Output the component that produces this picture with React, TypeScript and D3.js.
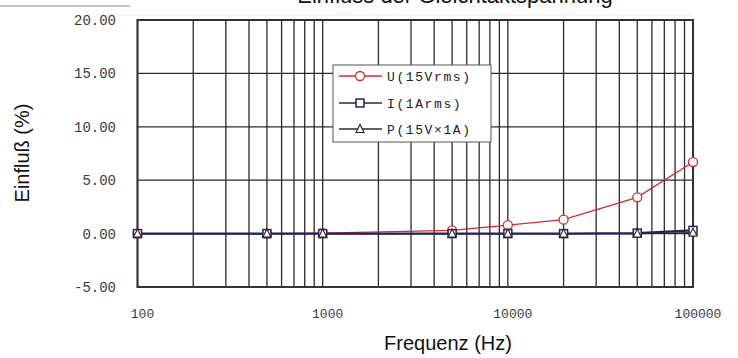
import { scaleLog, scaleLinear, line, range } from "d3"

const freqs = [100, 500, 1000, 5000, 10000, 20000, 50000, 100000]
const uValues = [0, 0, 0.05, 0.3, 0.8, 1.3, 3.4, 6.7]
const iValues = [0, 0, 0, 0, 0, 0, 0.05, 0.3]
const pValues = [0, 0, 0, 0, 0, 0, 0, 0.1]
const yTicks = [20, 15, 10, 5, 0, -5]
const xTicks = [100, 1000, 10000, 100000]
const legendLabels = ["U(15Vrms)", "I(1Arms)", "P(15V×1A)"]

const W = 738
const H = 358
const mono = "'Liberation Mono', 'DejaVu Sans Mono', monospace"
const sans = "'Liberation Sans', Arial, sans-serif"

const uColor = "#d42a2a"
const iColor = "#23235e"
const pColor = "#2a2a2a"

function Marker({ kind, x, y, color }: { kind: string; x: number; y: number; color: string }) {
  if (kind === "circle") {
    return <circle cx={x} cy={y} r={4.5} fill="#fff" stroke={color} strokeWidth={1.3} />
  }
  if (kind === "square") {
    return <rect x={x - 4} y={y - 4} width={8} height={8} fill="#fff" stroke={color} strokeWidth={1.5} />
  }
  return (
    <path
      d={`M${x},${y - 4.5}L${x + 4},${y + 3.5}L${x - 4},${y + 3.5}Z`}
      fill="#fff"
      stroke={color}
      strokeWidth={1.2}
    />
  )
}

export default function App() {
  const x = scaleLog().domain([100, 100000]).range([137.5, 693])
  const y = scaleLinear().domain([-5, 20]).range([287, 20])

  // minor grid: 1..9 times every decade
  const gridX: number[] = []
  ;[100, 1000, 10000].forEach((d) => range(1, 10).forEach((m) => gridX.push(d * m)))
  gridX.push(100000)

  const lineGen = line<number>()
    .x((_, i) => x(freqs[i]))
    .y((d) => y(d))

  const series = [
    { vals: uValues, color: uColor, width: 1.3, kind: "circle" },
    { vals: iValues, color: iColor, width: 2.2, kind: "square" },
    { vals: pValues, color: pColor, width: 1.2, kind: "triangle" },
  ]

  const lx = 333
  const ly = 65
  const rows = [76, 103, 129]

  return (
    <div style={{ position: "fixed", left: 0, top: 0 }}>
      <svg width={W} height={H} style={{ display: "block", background: "#fff" }}>
        <line x1={0} x2={130} y1={6} y2={6} stroke="#c9bfc9" strokeWidth={2} />
        <line x1={95} x2={690} y1={15} y2={15} stroke="#ececec" strokeWidth={1} />
        <text x={455} y={3} textAnchor="middle" fontFamily={sans} fontSize={22} fill="#111">
          Einfluss der Gleichtaktspannung
        </text>

        {gridX.map((f) => (
          <line key={f} x1={x(f)} x2={x(f)} y1={y(20)} y2={y(-5)} stroke="#2b2b2b" strokeWidth={1.3} />
        ))}
        {yTicks.map((t) => (
          <line key={t} x1={x(100)} x2={x(100000)} y1={y(t)} y2={y(t)} stroke="#2b2b2b" strokeWidth={1.3} />
        ))}
        <rect
          x={x(100)}
          y={y(20)}
          width={x(100000) - x(100)}
          height={y(-5) - y(20)}
          fill="none"
          stroke="#333"
          strokeWidth={2}
        />

        {yTicks.map((t) => (
          <text key={t} x={116} y={y(t) + 5} textAnchor="end" fontFamily={mono} fontSize={14} fill="#3a3a3a">
            {t.toFixed(2)}
          </text>
        ))}
        {xTicks.map((t) => (
          <text key={t} x={x(t) + 5} y={318} textAnchor="middle" fontFamily={mono} fontSize={13} fill="#3a3a3a">
            {t}
          </text>
        ))}

        <text
          transform={`translate(29,153) rotate(-90)`}
          textAnchor="middle"
          fontFamily={sans}
          fontSize={20}
          fill="#111"
        >
          Einfluß (%)
        </text>
        <text x={448} y={350} textAnchor="middle" fontFamily={sans} fontSize={20} fill="#111">
          Frequenz (Hz)
        </text>

        {series.map((s) => (
          <path key={s.kind} d={lineGen(s.vals) || undefined} fill="none" stroke={s.color} strokeWidth={s.width} />
        ))}
        {series.map((s) =>
          s.vals.map((v, i) => (
            <Marker key={s.kind + i} kind={s.kind} x={x(freqs[i])} y={y(v)} color={s.color} />
          ))
        )}

        <rect x={lx} y={ly} width={158} height={77} fill="#fff" stroke="#555" strokeWidth={1} />
        {series.map((s, i) => (
          <g key={s.kind}>
            <line x1={lx + 6} x2={lx + 49} y1={rows[i]} y2={rows[i]} stroke={s.color} strokeWidth={1.3} />
            <Marker kind={s.kind} x={lx + 27} y={rows[i]} color={s.color} />
            <text
              x={lx + 54}
              y={rows[i] + 5}
              fontFamily={mono}
              fontSize={13}
              letterSpacing={1.6}
              fill="#222"
            >
              {legendLabels[i]}
            </text>
          </g>
        ))}
      </svg>
    </div>
  )
}
